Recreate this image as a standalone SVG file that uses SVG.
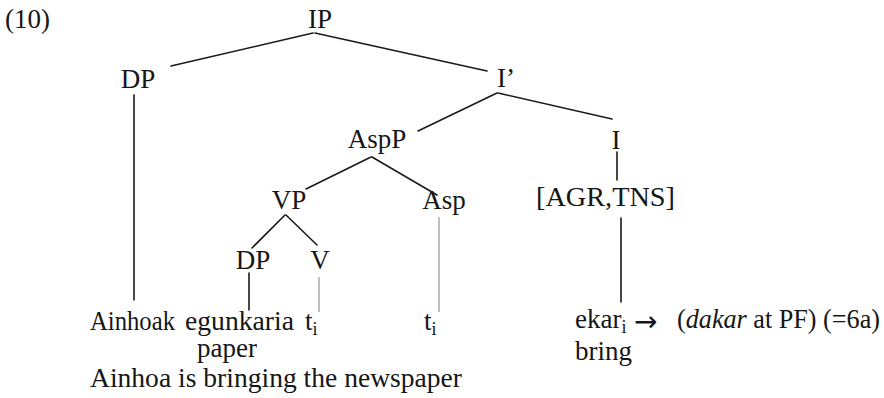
<svg xmlns="http://www.w3.org/2000/svg" width="884" height="398" viewBox="0 0 884 398">
<style>
text{font-family:"Liberation Serif","Times New Roman",serif;font-size:27px;fill:#161616}
.c{text-anchor:middle}
.sub{font-size:18px}
.arr{font-family:"DejaVu Sans",sans-serif;font-size:28px}
.e{stroke:#1a1a1a;stroke-width:1.6;fill:none;stroke-linecap:round}
.g{stroke:#8a8a8a;stroke-width:1.1;fill:none}
</style>
<rect width="884" height="398" fill="#fff"/>
<g id="connectors">
<line class="e" x1="313" y1="33" x2="171" y2="66"/>
<line class="e" x1="315" y1="33" x2="487" y2="71"/>
<line class="e" x1="497" y1="93" x2="418" y2="131"/>
<line class="e" x1="498" y1="93" x2="612" y2="119"/>
<line class="e" x1="371" y1="157" x2="306" y2="189"/>
<line class="e" x1="372" y1="157" x2="437" y2="195"/>
<line class="e" x1="285" y1="215" x2="252" y2="248"/>
<line class="e" x1="286" y1="215" x2="317" y2="245"/>
<line class="e" x1="134" y1="95" x2="134" y2="300"/>
<line class="e" x1="249" y1="273" x2="249" y2="310"/>
<line class="g" x1="319" y1="277" x2="319" y2="312"/>
<line class="g" x1="439" y1="217" x2="439" y2="312"/>
<line class="e" x1="617" y1="152" x2="617" y2="180"/>
<line class="e" x1="621" y1="218" x2="621" y2="302"/>
</g>
<g id="label10"><text x="5" y="28">(10)</text></g>
<g id="IP"><text class="c" x="320" y="28">IP</text></g>
<g id="DP1"><text class="c" x="138" y="88">DP</text></g>
<g id="Ibar"><text class="c" x="506" y="87">I’</text></g>
<g id="AspP"><text class="c" x="377" y="148">AspP</text></g>
<g id="I"><text class="c" x="616" y="149">I</text></g>
<g id="VP"><text class="c" x="289" y="209">VP</text></g>
<g id="Asp"><text class="c" x="444" y="209">Asp</text></g>
<g id="AGRTNS"><text x="536" y="206" textLength="139" lengthAdjust="spacingAndGlyphs">[AGR,TNS]</text></g>
<g id="DP2"><text class="c" x="253" y="269">DP</text></g>
<g id="V"><text class="c" x="320" y="269">V</text></g>
<g id="Ainhoak"><text x="90" y="330" textLength="85" lengthAdjust="spacingAndGlyphs">Ainhoak</text></g>
<g id="egunkaria"><text x="185" y="330" textLength="109" lengthAdjust="spacingAndGlyphs">egunkaria</text><text x="197" y="357">paper</text></g>
<g id="t1"><text x="305" y="330">t<tspan class="sub" dy="5">i</tspan></text></g>
<g id="t2"><text x="424" y="330">t<tspan class="sub" dy="5">i</tspan></text></g>
<g id="ekar"><text x="575" y="328">ekar<tspan class="sub" dy="5">i</tspan></text>
<text class="arr" x="634" y="331">→</text>
<text x="677" y="328" textLength="203" lengthAdjust="spacingAndGlyphs">(<tspan font-style="italic">dakar</tspan> at PF) (=6a)</text>
<text x="575" y="360">bring</text></g>
<g id="gloss"><text x="90" y="387" textLength="372" lengthAdjust="spacingAndGlyphs">Ainhoa is bringing the newspaper</text></g>
</svg>
